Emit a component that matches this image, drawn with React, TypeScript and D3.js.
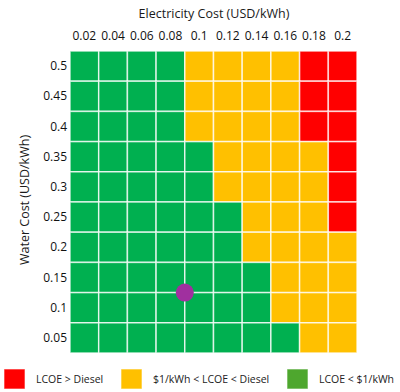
import React from "react";
import { scaleBand } from "d3";

// electricity cost columns, water cost rows (top to bottom)
const elecCosts = ["0.02", "0.04", "0.06", "0.08", "0.1", "0.12", "0.14", "0.16", "0.18", "0.2"];
const waterCosts = ["0.5", "0.45", "0.4", "0.35", "0.3", "0.25", "0.2", "0.15", "0.1", "0.05"];

// G = LCOE < $1/kWh, Y = $1/kWh < LCOE < Diesel, R = LCOE > Diesel
const cellClasses = [
  "GGGGYYYYRR",
  "GGGGYYYYRR",
  "GGGGYYYYRR",
  "GGGGGYYYYR",
  "GGGGGYYYYR",
  "GGGGGGYYYR",
  "GGGGGGYYYY",
  "GGGGGGGYYY",
  "GGGGGGGYYY",
  "GGGGGGGGYY",
];

// current operating point (electricity, water)
const pointElec = 0.09;
const pointWater = 0.125;

const legendItems = [
  { label: "LCOE > Diesel", color: "#FF0000" },
  { label: "$1/kWh < LCOE < Diesel", color: "#FFC000" },
  { label: "LCOE < $1/kWh", color: "#4EA72E" },
];

const cellColors: Record<string, string> = { G: "#00B050", Y: "#FFC000", R: "#FF0000" };

const font = "'Open Sans', 'Noto Sans', sans-serif";

export default function App() {
  const width = 400;
  const height = 392;
  const left = 70, right = 357, top = 51, bottom = 353;

  const x = scaleBand().domain(elecCosts).range([left, right]);
  const y = scaleBand().domain(waterCosts).range([top, bottom]);

  // point position: between columns/rows, interpolated on the band scale
  const step = x.bandwidth();
  const px = left + ((pointElec - 0.02) / 0.02 + 0.5) * step;
  const py = top + ((0.5 - pointWater) / 0.05 + 0.5) * y.bandwidth();

  const legendX = [4, 121, 287];

  return (
    <svg width={width} height={height} style={{ position: "absolute", left: 0, top: 0 }} fontFamily={font}>
      <rect width={width} height={height} fill="#fff" />
      <text x={214} y={18} textAnchor="middle" fontSize={12.5} fill="#1a1a1a">
        Electricity Cost (USD/kWh)
      </text>
      {elecCosts.map((e) => (
        <text key={e} x={x(e)! + x.bandwidth() / 2} y={40} textAnchor="middle" fontSize={12} fill="#111">
          {e}
        </text>
      ))}
      {waterCosts.map((w) => (
        <text key={w} x={67} y={y(w)! + y.bandwidth() / 2 + 4} textAnchor="end" fontSize={12} fill="#111">
          {w}
        </text>
      ))}
      <text
        transform={`translate(29, ${(top + bottom) / 2 - 2}) rotate(-90)`}
        textAnchor="middle"
        fontSize={12.5}
        fill="#1a1a1a"
      >
        Water Cost (USD/kWh)
      </text>
      {waterCosts.map((w, ri) =>
        elecCosts.map((e, ci) => (
          <rect
            key={w + e}
            x={x(e)}
            y={y(w)}
            width={x.bandwidth()}
            height={y.bandwidth()}
            fill={cellColors[cellClasses[ri][ci]]}
            stroke="#fff"
            strokeOpacity={0.75}
            strokeWidth={1.5}
          />
        ))
      )}
      <circle cx={px} cy={py} r={9} fill="#A0309F" />
      {legendItems.map((item, i) => (
        <g key={item.label}>
          <rect x={legendX[i]} y={369} width={21} height={20} fill={item.color} stroke="#fff" strokeOpacity={0.6} />
          <text x={legendX[i] + 32} y={382.5} fontSize={10.5} fill="#222">
            {item.label}
          </text>
        </g>
      ))}
    </svg>
  );
}
